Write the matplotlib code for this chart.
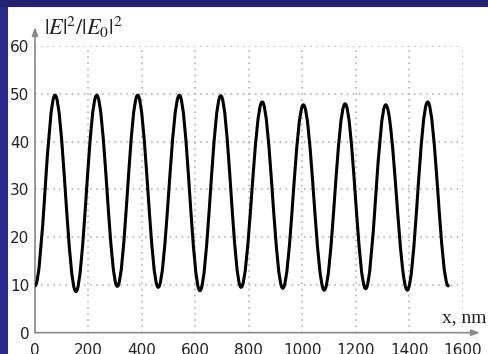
import matplotlib
matplotlib.use("Agg")
import matplotlib.pyplot as plt
from matplotlib.patches import PathPatch, Rectangle
from matplotlib.path import Path

# extrema of |E|^2/|E0|^2 (x in nm)
ext_x = [0, 75, 153, 231, 308, 384, 461, 540, 617, 695, 771,
         850, 927, 1004, 1082, 1160, 1237, 1312, 1393, 1469, 1546]
ext_y = [9.8, 49.7, 8.6, 49.7, 9.7, 49.7, 9.5, 49.7, 8.8, 49.6, 9.5,
         48.3, 9.3, 47.7, 8.9, 47.9, 9.2, 47.7, 8.9, 48.3, 9.8]
x_ticks = [0, 200, 400, 600, 800, 1000, 1200, 1400, 1600]
y_ticks = [0, 10, 20, 30, 40, 50, 60]

W, H = 488, 354
fig = plt.figure(figsize=(W / 100, H / 100), dpi=100, facecolor="#2a2a8c")
fig.patches.append(Rectangle((0, (H - 7) / H), 1, 7 / H, transform=fig.transFigure,
                             facecolor="#23236e", edgecolor="none", zorder=-11))
fig.patches.append(Rectangle((8 / W, 0), 1, (H - 7) / H, transform=fig.transFigure,
                             facecolor="white", edgecolor="none", zorder=-10))

ax = fig.add_axes([35 / W, 1 - 332.7 / H, 427.7 / W, 286.7 / H])
ax.set_facecolor("none")
ax.set_xlim(0, 1600)
ax.set_ylim(0, 60)
for s in ax.spines.values():
    s.set_visible(False)
ax.set_xticks(x_ticks)
ax.set_yticks(y_ticks)
ax.tick_params(length=0, labelsize=11, labelcolor="#222222")
ax.tick_params(axis="x", pad=7.5)
ax.tick_params(axis="y", pad=4)
for lab in ax.get_xticklabels() + ax.get_yticklabels():
    lab.set_family("DejaVu Sans")
ax.grid(True, color="#a8a8a8", linestyle=(0, (1, 3)), linewidth=1.1)

# axes with arrows
arrow = dict(arrowstyle="-|>,head_length=0.5,head_width=0.18", color="#8a8a8a", lw=1.2,
             shrinkA=0, shrinkB=0)
ax.annotate("", xy=(1665, 0), xytext=(0, 0), arrowprops=arrow, annotation_clip=False)
ax.annotate("", xy=(0, 64), xytext=(0, 0), arrowprops=arrow, annotation_clip=False)

# smooth curve through the extrema (horizontal tangents at peaks / troughs)
k = 0.3634
verts = [(ext_x[0], ext_y[0])]
codes = [Path.MOVETO]
for i in range(1, len(ext_x)):
    x0, y0 = ext_x[i - 1], ext_y[i - 1]
    x1, y1 = ext_x[i], ext_y[i]
    dx = x1 - x0
    verts += [(x0 + k * dx, y0), (x1 - k * dx, y1), (x1, y1)]
    codes += [Path.CURVE4] * 3
ax.add_patch(PathPatch(Path(verts, codes), facecolor="none", edgecolor="black",
                       lw=2.2, capstyle="round", joinstyle="round", zorder=3))

fig.text(44 / W, 1 - 27 / H, r"$|E|^2/|E_0|^2$", fontsize=16, math_fontfamily="stix",
         ha="left", va="center", color="#222222")
fig.text(442 / W, 1 - 322 / H, "x, nm", fontsize=14, family="Liberation Serif",
         ha="left", va="baseline", color="#222222")

fig.savefig("out.png", dpi=100, facecolor=fig.get_facecolor())
